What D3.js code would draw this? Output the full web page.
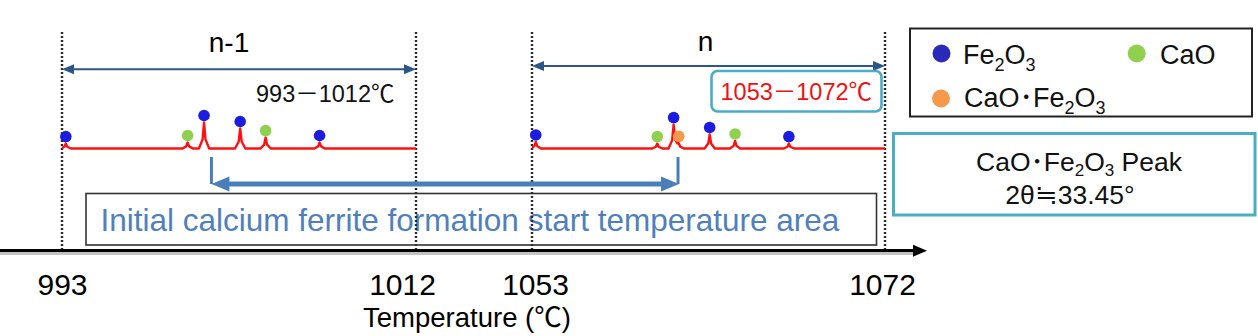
<!DOCTYPE html>
<html><head><meta charset="utf-8">
<script src="https://cdn.jsdelivr.net/npm/d3@7"></script>
<style>
body{margin:0;background:#fff}
text{font-family:"Liberation Sans",Arial,"Noto Sans CJK JP",sans-serif}
</style>
</head><body>
<svg id="c" width="1258" height="336"></svg>
<script>
// ---------- data ----------
const tempTicks = [993, 1012, 1053, 1072];
const panelNames = ["n-1", "n"];
const panelTemps = [[993, 1012], [1053, 1072]];
const rangeLabels = ["993－1012℃", "1053－1072℃"];
const twoThetaDomain = [23.44, 47.64];
const phaseNames = ["Fe2O3", "CaO", "CaO･Fe2O3"];
const phaseColors = ["#1c1ce0", "#8fd14f", "#f7994a"];
const legendColors = ["#2a2ab8", "#8fd14f", "#f7994a"];
const peakTheta = [23.7, 32.03, 33.15, 33.5, 35.62, 37.36, 41.05];
const peakPhase = ["Fe2O3", "CaO", "Fe2O3", "CaO･Fe2O3", "Fe2O3", "CaO", "Fe2O3"];
const peakHeightN1 = [19, 23, 100, 0, 77, 42, 23];
const peakHeightN = [25, 19, 92, 20, 54, 29, 19];
const cfPeakTheta = 33.45;
const boxText = "Initial calcium ferrite formation start temperature area";
const peakBoxLines = ["CaO･Fe2O3 Peak", "2θ≒33.45°"];
const xTitle = "Temperature (℃)";

// ---------- scales ----------
const svg = d3.select("#c");
const xT = d3.scaleLinear().domain(tempTicks).range([62, 416, 532, 885]);
const yI = d3.scaleLinear().domain([0, 100]).range([148.5, 122.5]);
const thetaScales = panelTemps.map(t => d3.scaleLinear().domain(twoThetaDomain).range([xT(t[0]), xT(t[1])]));
const colorOf = d3.scaleOrdinal().domain(phaseNames).range(phaseColors);
const legendColorOf = d3.scaleOrdinal().domain(phaseNames).range(legendColors);
const heights = [peakHeightN1, peakHeightN];

function formula(sel, str, sub, shift) {
  // digits become subscripts
  const parts = str.match(/[0-9]+|[^0-9]+/g);
  let low = false;
  parts.forEach(p => {
    const isNum = /^[0-9]+$/.test(p);
    const t = sel.append("tspan").text(p);
    if (isNum && !low) { t.attr("dy", shift).attr("font-size", sub); low = true; }
    else if (isNum) { t.attr("font-size", sub); }
    else if (low) { t.attr("dy", -shift); low = false; }
  });
}

// ---------- text box (under dotted lines) ----------
svg.append("rect").attr("x", 86).attr("y", 193.5).attr("width", 790.5).attr("height", 51.5)
  .attr("fill", "#fff").attr("stroke", "#333").attr("stroke-width", 1.6);
svg.append("text").attr("x", 100.5).attr("y", 231).attr("font-size", 31.5).attr("fill", "#4f80bd").text(boxText);

// ---------- dotted lines ----------
svg.selectAll("line.dot").data(tempTicks).join("line").attr("class", "dot")
  .attr("x1", d => xT(d)).attr("x2", d => xT(d)).attr("y1", 32).attr("y2", 249)
  .attr("stroke", "#2a2a2a").attr("stroke-width", 2.4).attr("stroke-dasharray", "2,2");

// ---------- axis ----------
const axY = 250.7;
svg.append("line").attr("x1", 0).attr("x2", 916).attr("y1", axY + 3.3).attr("y2", axY + 3.3)
  .attr("stroke", "#b0b0b0").attr("stroke-width", 1.6);
svg.append("line").attr("x1", 0).attr("x2", 916).attr("y1", axY).attr("y2", axY)
  .attr("stroke", "#000").attr("stroke-width", 3.2);
svg.append("path").attr("d", `M927,${axY}L913,${axY - 6}L913,${axY + 6}Z`).attr("fill", "#000");
const ax = svg.append("g").attr("transform", `translate(0,${axY})`)
  .call(d3.axisBottom(xT).tickValues(tempTicks).tickSize(0).tickPadding(23).tickFormat(d3.format("d")));
ax.select(".domain").remove();
ax.selectAll("text").attr("font-size", 30).attr("fill", "#000")
  .style("font-family", '"Liberation Sans",Arial,sans-serif')
  .attr("dx", d => d === 1012 ? -14 : (d === 1053 ? 3 : (d === 1072 ? -3 : 0)));
svg.append("text").attr("x", 467).attr("y", 327).attr("text-anchor", "middle")
  .attr("font-size", 27.5).text(xTitle);

// ---------- range arrows ----------
const navy = "#2d5688";
panelTemps.forEach((t, i) => {
  const y = i === 0 ? 69.3 : 66;
  const x0 = xT(t[0]), x1 = xT(t[1]);
  svg.append("line").attr("x1", x0 + 4).attr("x2", x1 - 4).attr("y1", y).attr("y2", y)
    .attr("stroke", navy).attr("stroke-width", 2);
  svg.append("path").attr("d", `M${x0},${y}L${x0 + 12},${y - 5}L${x0 + 12},${y + 5}Z`).attr("fill", navy);
  svg.append("path").attr("d", `M${x1},${y}L${x1 - 12},${y - 5}L${x1 - 12},${y + 5}Z`).attr("fill", navy);
  svg.append("text").attr("x", (x0 + x1) / 2 + (i === 0 ? -10 : -3)).attr("y", i === 0 ? 52 : 51)
    .attr("text-anchor", "middle").attr("font-size", 28).text(panelNames[i]);
});

// range labels
svg.append("rect").attr("x", 711.5).attr("y", 71).attr("width", 170).attr("height", 40.5).attr("rx", 6)
  .attr("fill", "#fff").attr("stroke", "#4bacc6").attr("stroke-width", 2.6);
svg.append("text").attr("x", 256).attr("y", 102).attr("font-size", 23.5).attr("fill", "#111").text(rangeLabels[0]);
svg.append("text").attr("x", 720.5).attr("y", 100).attr("font-size", 23.5).attr("fill", "#f01010").text(rangeLabels[1]);

// ---------- spectra ----------
function profile(th, hs) {
  let s = 0;
  peakTheta.forEach((p, k) => {
    const d = Math.abs(th - p), h = hs[k];
    if (d < 0.1) s += h * (1 - 0.65 * d / 0.1);
    else if (d < 0.35) s += h * 0.35 * (0.35 - d) / 0.25;
  });
  return s;
}
const line = d3.line();
panelTemps.forEach((t, i) => {
  const xs = thetaScales[i];
  const hs = heights[i];
  let samples = [twoThetaDomain[0], twoThetaDomain[1]];
  peakTheta.forEach((p, k) => { if (hs[k] > 0) [-0.35, -0.1, 0, 0.1, 0.35].forEach(o => samples.push(p + o)); });
  samples = samples.filter(s => s >= twoThetaDomain[0] && s <= twoThetaDomain[1]).sort((a, b) => a - b);
  const pts = samples.map(s => [xs(s), yI(profile(s, hs))]);
  svg.append("path").attr("d", line(pts)).attr("fill", "none").attr("stroke", "#ff1010")
    .attr("stroke-width", 2.4).attr("stroke-linejoin", "round");
  const marks = peakTheta.map((p, k) => ({ p, h: hs[k], ph: peakPhase[k] })).filter(d => d.h > 0);
  svg.append("g").selectAll("circle").data(marks).join("circle")
    .attr("cx", d => xs(d.p)).attr("cy", d => yI(d.h) - 7).attr("r", 5.8)
    .attr("fill", d => colorOf(d.ph));
});

// ---------- bracket arrow ----------
const bl = thetaScales[0](cfPeakTheta) + 3, br = thetaScales[1](cfPeakTheta);
const bc = "#4a7ebb", by = 184;
svg.append("path").attr("d", `M${bl},157L${bl},${by}`).attr("stroke", bc).attr("stroke-width", 3).attr("fill", "none");
svg.append("path").attr("d", `M${br},157L${br},${by}`).attr("stroke", bc).attr("stroke-width", 3).attr("fill", "none");
svg.append("line").attr("x1", bl + 10).attr("x2", br - 10).attr("y1", by).attr("y2", by)
  .attr("stroke", bc).attr("stroke-width", 5);
svg.append("path").attr("d", `M${bl},${by}L${bl + 18},${by - 7.5}L${bl + 18},${by + 7.5}Z`).attr("fill", bc);
svg.append("path").attr("d", `M${br + 1},${by}L${br - 17},${by - 7.5}L${br - 17},${by + 7.5}Z`).attr("fill", bc);

// ---------- legend ----------
svg.append("rect").attr("x", 910).attr("y", 28.5).attr("width", 342).attr("height", 88)
  .attr("fill", "none").attr("stroke", "#222").attr("stroke-width", 2);
const legPos = [[941.5, 53.5, 963, 63.5], [1136.7, 53.5, 1160, 63.5], [941, 98.5, 964, 107]];
phaseNames.forEach((n, i) => {
  const [cx, cy, tx, ty] = legPos[i];
  svg.append("circle").attr("cx", cx).attr("cy", cy).attr("r", 9).attr("fill", legendColorOf(n));
  const t = svg.append("text").attr("x", tx).attr("y", ty).attr("font-size", 27).attr("fill", "#111");
  formula(t, n, 18, 7);
});

// ---------- peak box ----------
svg.append("rect").attr("x", 893.5).attr("y", 133.5).attr("width", 361.5).attr("height", 81.5)
  .attr("fill", "none").attr("stroke", "#4bacc6").attr("stroke-width", 3);
const pt1 = svg.append("text").attr("x", 1079).attr("y", 171).attr("text-anchor", "middle").attr("font-size", 26.5).attr("fill", "#111");
formula(pt1, peakBoxLines[0], 17, 5);
svg.append("text").attr("x", 1070).attr("y", 204).attr("text-anchor", "middle").attr("font-size", 26.5).attr("fill", "#111").text(peakBoxLines[1]);
</script>
</body></html>
